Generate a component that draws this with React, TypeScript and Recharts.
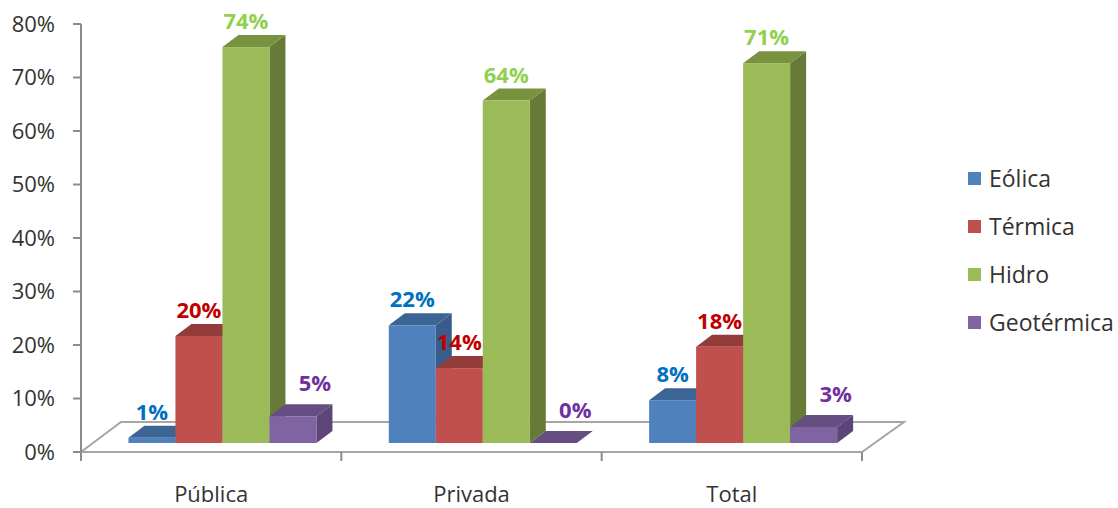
import React from 'react';
import {
  BarChart,
  Bar,
  XAxis,
  YAxis,
  Legend,
  LabelList,
  ReferenceArea,
} from 'recharts';

const categories = ['Pública', 'Privada', 'Total'];
const eolica = [1, 22, 8];
const termica = [20, 14, 18];
const hidro = [74, 64, 71];
const geotermica = [5, 0, 3];
const yTicks = [0, 10, 20, 30, 40, 50, 60, 70, 80];

const data = categories.map((name, i) => ({
  name,
  eolica: eolica[i],
  termica: termica[i],
  hidro: hidro[i],
  geotermica: geotermica[i],
}));

const FONT = '"Open Sans", sans-serif';

// 3D look: bars sit a little behind the front edge of the floor
const SHIFT_X = 11;
const SHIFT_Y = -9;
const DEPTH_X = 16;
const DEPTH_Y = 12;

const series = [
  { key: 'eolica', name: 'Eólica', front: '#4F81BD', top: '#3C6593', side: '#385D8A', label: '#0070C0', ldx: 0, ldy: -18 },
  { key: 'termica', name: 'Térmica', front: '#C0504D', top: '#943C3A', side: '#8C3836', label: '#C00000', ldx: 0, ldy: -18 },
  { key: 'hidro', name: 'Hidro', front: '#9BBB59', top: '#78923F', side: '#677A38', label: '#92D050', ldx: 0, ldy: -18 },
  { key: 'geotermica', name: 'Geotérmica', front: '#8064A2', top: '#654E82', side: '#5C4677', label: '#7030A0', ldx: 22, ldy: -25 },
];

const makeShape = (s: typeof series[number]) => (props: any) => {
  const { x, y, width, height } = props;
  if (x == null || width == null) return <g />;
  const x0 = x + SHIFT_X;
  const y0 = y + SHIFT_Y;
  const h = Math.max(0, height || 0);
  const x1 = x0 + width;
  const yb = y0 + h;
  return (
    <g>
      {h > 0 && (
        <polygon
          points={`${x1},${y0} ${x1 + DEPTH_X},${y0 - DEPTH_Y} ${x1 + DEPTH_X},${yb - DEPTH_Y} ${x1},${yb}`}
          fill={s.side}
        />
      )}
      <polygon
        points={`${x0},${y0} ${x1},${y0} ${x1 + DEPTH_X},${y0 - DEPTH_Y} ${x0 + DEPTH_X},${y0 - DEPTH_Y}`}
        fill={s.top}
      />
      {h > 0 && <rect x={x0} y={y0} width={width} height={h} fill={s.front} />}
    </g>
  );
};

const makeLabel = (s: typeof series[number]) => (props: any) => {
  const { x, y, width, value } = props;
  if (x == null) return null;
  return (
    <text
      x={x + SHIFT_X + width / 2 + s.ldx}
      y={y + SHIFT_Y + s.ldy}
      textAnchor="middle"
      fill={s.label}
      fontFamily={FONT}
      fontWeight={700}
      fontSize={22}
    >
      {`${value}%`}
    </text>
  );
};

// floor of the 3D plot plus category boundary ticks
const Floor = (props: any) => {
  const { x, y, width, height } = props;
  const yf = y + height;
  const dx = 40;
  const dy = 30;
  const step = width / categories.length;
  const ticks = [0, 1, 2, 3].map((i) => x + i * step);
  return (
    <g>
      <polygon
        points={`${x},${yf} ${x + width},${yf} ${x + width + dx + 2},${yf - dy} ${x + dx},${yf - dy}`}
        fill="#fff"
        stroke="#A6A6A6"
        strokeWidth={2}
      />
      {ticks.map((tx, i) => (
        <line key={i} x1={tx} y1={yf} x2={tx} y2={yf + 9} stroke="#8C8C8C" strokeWidth={2} />
      ))}
    </g>
  );
};

const LegendBox = () => (
  <div style={{ fontFamily: FONT, fontSize: 23, color: '#333' }}>
    {series.map((s) => (
      <div key={s.key} style={{ display: 'flex', alignItems: 'center', height: 48 }}>
        <span style={{ display: 'inline-block', width: 13, height: 13, background: s.front, marginRight: 8 }} />
        <span>{s.name}</span>
      </div>
    ))}
  </div>
);

export default function App() {
  return (
    <div style={{ width: 1118, height: 508, background: '#fff' }}>
      <style>{`body{margin:0}`}</style>
      <BarChart
        width={1118}
        height={508}
        data={data}
        margin={{ top: 24, right: 256, bottom: 0, left: 0 }}
        barCategoryGap="14%"
        barGap={0}
      >
        <XAxis
          dataKey="name"
          axisLine={false}
          tickLine={false}
          tickSize={0}
          tickMargin={34}
          height={56}
          tick={{ fill: '#333', fontFamily: FONT, fontSize: 22 }}
        />
        <YAxis
          width={81}
          domain={[0, 80]}
          ticks={yTicks}
          interval={0}
          tickFormatter={(v) => `${v}%`}
          axisLine={{ stroke: '#8C8C8C', strokeWidth: 2 }}
          tickLine={{ stroke: '#8C8C8C', strokeWidth: 2 }}
          tickSize={8}
          tickMargin={18}
          tick={{ fill: '#333', fontFamily: FONT, fontSize: 22 }}
        />
        <ReferenceArea y1={0} y2={80} shape={(p: any) => <Floor {...p} />} />
        <Legend
          align="center"
          verticalAlign="middle"
          layout="horizontal"
          wrapperStyle={{ left: 968, top: 154, width: 150 }}
          content={() => <LegendBox />}
        />
        {series.map((s) => (
          <Bar
            key={s.key}
            dataKey={s.key}
            name={s.name}
            fill={s.front}
            shape={makeShape(s)}
            isAnimationActive={false}
          >
            <LabelList dataKey={s.key} content={makeLabel(s)} />
          </Bar>
        ))}
      </BarChart>
    </div>
  );
}
